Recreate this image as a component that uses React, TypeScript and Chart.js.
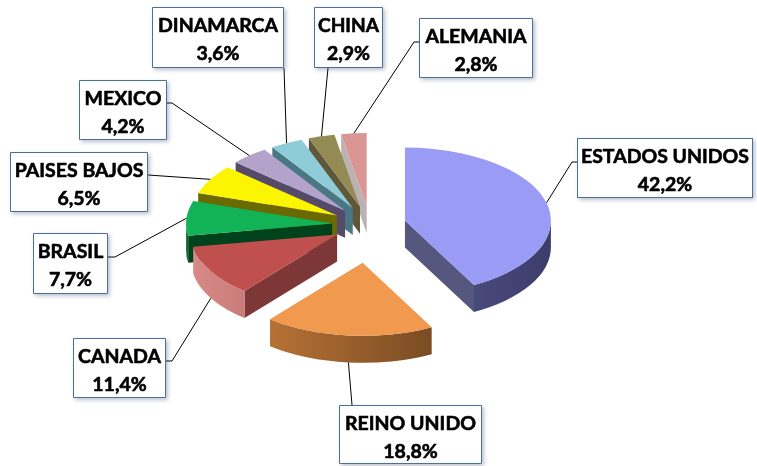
import React, { useEffect, useRef } from 'react';
import { Chart, registerables } from 'chart.js';

Chart.register(...registerables);

// ---- data ----
const categories = ['ESTADOS UNIDOS', 'REINO UNIDO', 'CANADA', 'BRASIL', 'PAISES BAJOS', 'MEXICO', 'DINAMARCA', 'CHINA', 'ALEMANIA'];
const shares = [42.2, 18.8, 11.4, 7.7, 6.5, 4.2, 3.6, 2.9, 2.8];

// ---- styles ----
const topColors = ['#999bf4', '#f0994f', '#c0504d', '#12b356', '#fbf500', '#b3a3cb', '#8fccda', '#948a54', '#d99694'];
const faceColors = ['#55577f', '#8a5424', '#7d3737', '#00421c', '#6b6a00', '#564a6a', '#4a7784', '#5e5838', '#bdb2b2'];
const wallLight = ['#6c6eb0', '#c97e3d', '#d88a88', '#0a6a30', '#8a8800', '#7a6a92', '#6aa3b1', '#7a7248', '#c8baba'];
const wallDark = ['#3c3d6a', '#5e3a19', '#8a3c3b', '#003a18', '#5c5a00', '#4a3f5c', '#3c6670', '#4f4a2e', '#a89d9d'];
const explode = [36, 76, 38, 38, 38, 38, 38, 38, 38];
const TILT = 0.5;
const DEPTH = 27;

// label layout: box rect, attach point, optional elbow
const labelLayout = [
  { x: 577, y: 138, w: 176, h: 60, ax: 577, ay: 162, ex: 572, ey: 162 },
  { x: 339, y: 405, w: 143, h: 59, ax: 352, ay: 405 },
  { x: 73, y: 338, w: 93, h: 60, ax: 166, ay: 361, ex: 172, ey: 361 },
  { x: 33, y: 233, w: 75, h: 61, ax: 108, ay: 257, ex: 115, ey: 257 },
  { x: 10, y: 152, w: 138, h: 60, ax: 148, ay: 175 },
  { x: 79, y: 80, w: 88, h: 60, ax: 167, ay: 103, ex: 172, ey: 103 },
  { x: 152, y: 7, w: 132, h: 61, ax: 284, ay: 68 },
  { x: 314, y: 7, w: 69, h: 61, ax: 328, ay: 68 },
  { x: 419, y: 18, w: 114, h: 60, ax: 419, ay: 42, ex: 414, ey: 42 },
];

const FONT = 'bold 19.5px Lato, "Open Sans", sans-serif';

type Slice = { i: number; ax: number; ay: number; s: number; e: number; mid: number; r: number };

function computeSlices(chart: any): Slice[] {
  const meta = chart.getDatasetMeta(0);
  return meta.data.map((arc: any, i: number) => {
    const p = arc.getProps(['x', 'y', 'startAngle', 'endAngle', 'outerRadius'], true);
    const mid = (p.startAngle + p.endAngle) / 2;
    const d = explode[i];
    return {
      i,
      ax: p.x + d * Math.cos(mid),
      ay: p.y + d * Math.sin(mid) * TILT,
      s: p.startAngle,
      e: p.endAngle,
      mid,
      r: p.outerRadius,
    };
  });
}

function drawSlice(ctx: CanvasRenderingContext2D, sl: Slice) {
  const { ax, ay, s, e, r, i } = sl;
  const rx = r;
  const ry = r * TILT;
  const pt = (a: number) => [ax + rx * Math.cos(a), ay + ry * Math.sin(a)];
  const face = (a: number) => {
    const [px, py] = pt(a);
    ctx.beginPath();
    ctx.moveTo(ax, ay);
    ctx.lineTo(px, py);
    ctx.lineTo(px, py + DEPTH);
    ctx.lineTo(ax, ay + DEPTH);
    ctx.closePath();
    ctx.fillStyle = faceColors[i];
    ctx.fill();
  };
  if (Math.cos(s) < -1e-6) face(s);
  if (Math.cos(e) > 1e-6) face(e);
  // outer wall (front part)
  const a0 = Math.max(s, 0);
  const a1 = Math.min(e, Math.PI);
  if (a1 > a0) {
    ctx.beginPath();
    ctx.ellipse(ax, ay, rx, ry, 0, a0, a1, false);
    ctx.ellipse(ax, ay + DEPTH, rx, ry, 0, a1, a0, true);
    ctx.closePath();
    const g = ctx.createLinearGradient(ax - rx, 0, ax + rx, 0);
    g.addColorStop(0, wallLight[i]);
    g.addColorStop(1, wallDark[i]);
    ctx.fillStyle = g;
    ctx.fill();
  }
  // top face
  ctx.beginPath();
  ctx.moveTo(ax, ay);
  ctx.ellipse(ax, ay, rx, ry, 0, s, e, false);
  ctx.closePath();
  ctx.fillStyle = topColors[i];
  ctx.fill();
}

const pie3d = {
  id: 'pie3d',
  beforeDatasetsDraw(chart: any) {
    const ctx: CanvasRenderingContext2D = chart.ctx;
    const slices = computeSlices(chart);
    const order = [...slices].sort((a, b) => Math.sin(a.mid) - Math.sin(b.mid));
    ctx.save();
    order.forEach((sl) => drawSlice(ctx, sl));
    ctx.restore();
    return false;
  },
  afterDraw(chart: any) {
    const ctx: CanvasRenderingContext2D = chart.ctx;
    const slices = computeSlices(chart);
    ctx.save();
    // leader lines
    ctx.strokeStyle = '#000';
    ctx.lineWidth = 1;
    slices.forEach((sl) => {
      const L = labelLayout[sl.i];
      const px = sl.ax + sl.r * Math.cos(sl.mid);
      let py = sl.ay + sl.r * TILT * Math.sin(sl.mid);
      if (Math.sin(sl.mid) > 0) py += DEPTH;
      ctx.beginPath();
      ctx.moveTo(px, py);
      if (L.ex !== undefined) ctx.lineTo(L.ex, L.ey);
      ctx.lineTo(L.ax, L.ay);
      ctx.stroke();
    });
    // boxes
    slices.forEach((sl) => {
      const L = labelLayout[sl.i];
      ctx.save();
      ctx.shadowColor = 'rgba(60,80,110,0.35)';
      ctx.shadowBlur = 4;
      ctx.shadowOffsetX = 2;
      ctx.shadowOffsetY = 2;
      ctx.fillStyle = '#ffffff';
      ctx.fillRect(L.x, L.y, L.w, L.h);
      ctx.restore();
      ctx.strokeStyle = '#4a6f9e';
      ctx.lineWidth = 1;
      ctx.strokeRect(L.x + 0.5, L.y + 0.5, L.w - 1, L.h - 1);
      ctx.fillStyle = '#000';
      ctx.strokeStyle = '#000';
      ctx.lineWidth = 0.6;
      ctx.lineJoin = 'round';
      ctx.font = FONT;
      ctx.textAlign = 'center';
      ctx.textBaseline = 'alphabetic';
      const cx = L.x + L.w / 2;
      const l1 = categories[sl.i];
      const l2 = shares[sl.i].toFixed(1).replace('.', ',') + '%';
      const maxW = L.w - 8;
      [[l1, L.y + 24.5], [l2, L.y + 52.5]].forEach(([t, by]) => {
        const w = ctx.measureText(t as string).width;
        const sx = w > maxW ? maxW / w : 1;
        ctx.save();
        ctx.translate(cx, by as number);
        ctx.scale(sx, 1);
        ctx.fillText(t as string, 0, 0);
        ctx.strokeText(t as string, 0, 0);
        ctx.restore();
      });
    });
    ctx.restore();
  },
};

export default function App() {
  const ref = useRef<HTMLCanvasElement | null>(null);
  useEffect(() => {
    if (!ref.current) return;
    const chart = new Chart(ref.current, {
      type: 'pie',
      data: {
        labels: categories,
        datasets: [
          {
            data: shares,
            backgroundColor: topColors,
            borderWidth: 0,
          },
        ],
      },
      options: {
        animation: false,
        responsive: false,
        radius: 146,
        layout: { padding: { left: 0, right: 17, top: 0, bottom: 16 } },
        plugins: { legend: { display: false }, tooltip: { enabled: false } },
        events: [],
      } as any,
      plugins: [pie3d as any],
    });
    return () => chart.destroy();
  }, []);
  return (
    <div style={{ position: 'fixed', left: 0, top: 0, width: 757, height: 466, background: '#fff' }}>
      <canvas ref={ref} width={757} height={466} style={{ display: 'block' }} />
    </div>
  );
}
